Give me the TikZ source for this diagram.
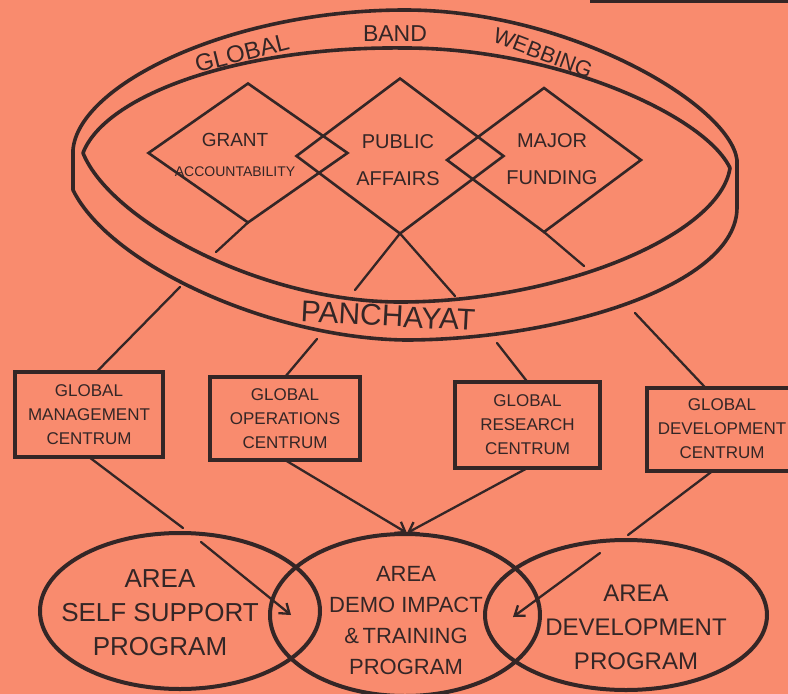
\documentclass[tikz,border=0pt]{standalone}
\usepackage{fontspec}
\setmainfont{Liberation Sans}
\usetikzlibrary{shapes.geometric,arrows.meta}
\definecolor{paper}{RGB}{249,139,110}
\definecolor{ink}{RGB}{52,38,38}

\begin{document}
\begin{tikzpicture}[x=1pt,y=-1pt,
  band/.style={draw=ink,line width=3.6pt,line join=round},
  kite/.style={diamond,draw=ink,line width=2.6pt,outer sep=0pt,inner sep=0pt},
  centrum/.style={rectangle,draw=ink,line width=4pt,outer sep=0pt,inner sep=0pt,text=ink,align=center,font=\fontsize{17}{24}\selectfont},
  area/.style={ellipse,draw=ink,line width=4pt,outer sep=0pt,inner sep=0pt},
  hand/.style={text=ink,align=center,inner sep=0pt},
  wire/.style={draw=ink,line width=2.3pt,line cap=round},
  feed/.style={wire,-{Straight Barb[length=9pt,width=13pt]}}]

\fill[paper] (0,0) rectangle (788,694);
\useasboundingbox (0,0) rectangle (788,694);
\fill[ink] (590,0) rectangle (788,2.5);

% the band
\draw[band] (73,150) .. controls (78,85) and (230,10) .. (405,10)
  .. controls (570,10) and (730,105) .. (737,160) -- (737,207)
  .. controls (738,285) and (560,340) .. (405,340)
  .. controls (270,338) and (110,265) .. (73,190) -- cycle;
\draw[band] (83,153) .. controls (105,95) and (240,46) .. (405,48)
  .. controls (555,48) and (705,115) .. (730,168)
  .. controls (720,235) and (560,302) .. (400,302)
  .. controls (260,302) and (110,220) .. (83,153) -- cycle;

\node[hand,font=\fontsize{24}{24}\selectfont,rotate=14] (global) at (242,53) {GLOBAL};
\node[hand,font=\fontsize{23}{23}\selectfont] (bandtxt) at (395,34) {BAND};
\node[hand,font=\fontsize{22}{22}\selectfont,rotate=-21] (webbing) at (543,53) {WEBBING};
\node[hand,font=\fontsize{30}{30}\selectfont,rotate=-3] (panchayat) at (388,316) {PANCHAYAT};

% the three kites
\node[kite,minimum width=199pt,minimum height=139pt] (grant) at (248,153) {};
\node[kite,minimum width=207pt,minimum height=155pt] (public) at (400,156) {};
\node[kite,minimum width=194pt,minimum height=144pt] (major) at (544,160) {};

\node[hand,font=\fontsize{19}{30}\selectfont] (granttxt) at (235,155) {GRANT\\{\fontsize{14}{16}\selectfont ACCOUNTABILITY}};
\node[hand,font=\fontsize{20}{37}\selectfont] (publictxt) at (398,160) {PUBLIC\\AFFAIRS};
\node[hand,font=\fontsize{20}{37}\selectfont] (majortxt) at (552,159) {MAJOR\\FUNDING};

\coordinate (granttail) at (216,252);
\coordinate (pubtailL) at (355,290);
\coordinate (pubtailR) at (455,296);
\coordinate (majortail) at (584,266);
\draw[wire] (grant.south) -- (granttail);
\draw[wire] (public.south) -- (pubtailL);
\draw[wire] (public.south) -- (pubtailR);
\draw[wire] (major.south) -- (majortail);

% centrums
\node[centrum,minimum width=148pt,minimum height=85pt] (mgmt) at (89,414.5) {GLOBAL\\MANAGEMENT\\CENTRUM};
\node[centrum,minimum width=150pt,minimum height=83pt] (ops) at (285,418.5) {GLOBAL\\OPERATIONS\\CENTRUM};
\node[centrum,minimum width=145pt,minimum height=86pt] (research) at (527.5,425) {GLOBAL\\RESEARCH\\CENTRUM};
\node[centrum,minimum width=150pt,minimum height=83pt] (devel) at (722,429) {GLOBAL\\DEVELOPMENT\\CENTRUM};

\coordinate (tie1) at (180,287);
\coordinate (tie2) at (317,339);
\coordinate (tie3) at (497,343);
\coordinate (tie4) at (635,313);
\draw[wire] (tie1) -- (mgmt.80);
\draw[wire] (tie2) -- (ops.north);
\draw[wire] (tie3) -- (research.north);
\draw[wire] (tie4) -- (devel.112);

% area programs
\node[area,minimum width=280pt,minimum height=156pt] (selfsup) at (180,611) {};
\node[area,minimum width=270pt,minimum height=162pt] (demo) at (405,615) {};
\node[area,minimum width=282pt,minimum height=150pt] (areadev) at (626,615) {};

\node[hand,font=\fontsize{26}{34}\selectfont] (selfsuptxt) at (160,613) {AREA\\SELF SUPPORT\\PROGRAM};
\node[hand,font=\fontsize{22}{31}\selectfont] (demotxt) at (406,621) {AREA\\DEMO IMPACT\\\&\,TRAINING\\PROGRAM};
\node[hand,font=\fontsize{24}{34}\selectfont] (areadevtxt) at (636,627) {AREA\\DEVELOPMENT\\PROGRAM};

\coordinate (gapA1) at (183,528);
\coordinate (gapA2) at (201,542);
\coordinate (tipA) at (291,615);
\coordinate (tipB) at (407,533);
\coordinate (gapD1) at (628,535);
\coordinate (gapD2) at (600,553);
\coordinate (tipD) at (513,617);
\draw[wire] (mgmt.south) -- (gapA1);
\draw[feed] (gapA2) -- (tipA);
\draw[feed] (ops.south) -- (tipB);
\draw[feed] (research.south) -- (tipB);
\draw[wire] (devel.258) -- (gapD1);
\draw[feed] (gapD2) -- (tipD);
\end{tikzpicture}
\end{document}
